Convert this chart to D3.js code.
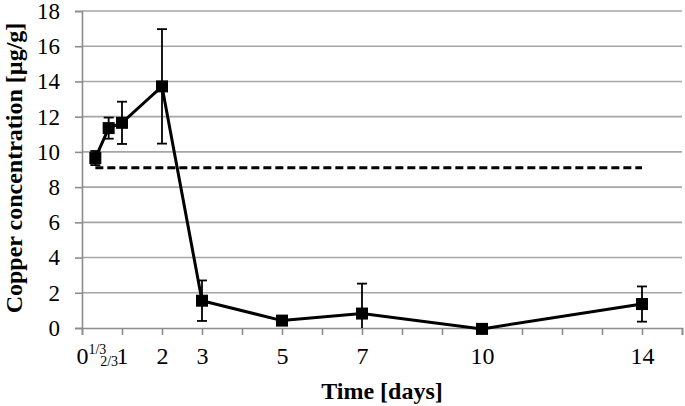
<!DOCTYPE html>
<html>
<head>
<meta charset="utf-8">
<script src="https://cdn.jsdelivr.net/npm/d3@7"></script>
</head>
<body style="margin:0">
<div id="chart"></div>
<script>
// sampling times in days and measured copper
var times = [1/3, 2/3, 1, 2, 3, 5, 7, 10, 14];
var copper = [9.65, 11.35, 11.65, 13.72, 1.55, 0.42, 0.82, -0.05, 1.36];
var errors = [0.4, 0.6, 1.2, 3.25, 1.15, 0.2, 1.7, 0, 1.0];
// dashed reference level
var refLevel = 9.1;
var refSpan = [1/3, 14];
var xLabels = [0, 1, 2, 3, 5, 7, 10, 14];
var fracLabels = [{t: 1/3, s: "1/3"}, {t: 2/3, s: "2/3"}];
var yTicks = [0, 2, 4, 6, 8, 10, 12, 14, 16, 18];

var width = 685, height = 406;
var margin = {top: 11, right: 3, bottom: 78, left: 82};
var serif = "Liberation Serif";

var svg = d3.select("#chart").append("svg")
  .attr("width", width).attr("height", height);

var x = d3.scaleLinear().domain([0, 15]).range([margin.left, width - margin.right]);
var y = d3.scaleLinear().domain([0, 18]).range([height - margin.bottom, margin.top]);

// horizontal grid
svg.append("g").selectAll("line")
  .data(yTicks.filter(function (d) { return d > 0; }))
  .enter().append("line")
  .attr("x1", x(0)).attr("x2", x(15))
  .attr("y1", function (d) { return y(d); })
  .attr("y2", function (d) { return y(d); })
  .attr("stroke", "#a6a6a6").attr("stroke-width", 1.6);

// y axis
var yAxis = svg.append("g")
  .attr("transform", "translate(" + x(0) + ",0)")
  .call(d3.axisLeft(y).tickValues(yTicks).tickSize(7).tickPadding(15));
yAxis.selectAll("line, path").attr("stroke", "#8c8c8c").attr("stroke-width", 1.6);
yAxis.selectAll("text").attr("fill", "#000")
  .attr("font-family", serif).attr("font-size", 23);

// x axis
var xAxis = svg.append("g")
  .attr("transform", "translate(0," + y(0) + ")")
  .call(d3.axisBottom(x).tickValues(d3.range(0, 16)).tickSize(7).tickPadding(12)
    .tickFormat(function (d) { return xLabels.indexOf(d) >= 0 ? d : ""; }));
xAxis.selectAll("line, path").attr("stroke", "#8c8c8c").attr("stroke-width", 1.6);
xAxis.selectAll("text").attr("fill", "#000")
  .attr("font-family", serif).attr("font-size", 24);

// the 1/3 and 2/3 labels squeezed between 0 and 1
svg.append("g").selectAll("text")
  .data(fracLabels)
  .enter().append("text")
  .attr("x", function (d, i) { return x(d.t) + (i === 0 ? 2 : 0.5); })
  .attr("y", function (d, i) { return i === 0 ? 354 : 366; })
  .attr("text-anchor", "middle")
  .attr("font-family", serif).attr("font-size", 14)
  .text(function (d) { return d.s; });

// dashed reference line
svg.append("line")
  .attr("x1", x(refSpan[0])).attr("x2", x(refSpan[1]))
  .attr("y1", y(refLevel)).attr("y2", y(refLevel))
  .attr("stroke", "#000").attr("stroke-width", 3)
  .attr("stroke-dasharray", "8,4");

var pts = times.map(function (t, i) { return {t: t, v: copper[i], e: errors[i]}; });

// error bars
var eb = svg.append("g").selectAll("g")
  .data(pts.filter(function (d) { return d.e > 0; }))
  .enter().append("g");
eb.append("line")
  .attr("x1", function (d) { return x(d.t); })
  .attr("x2", function (d) { return x(d.t); })
  .attr("y1", function (d) { return y(d.v + d.e); })
  .attr("y2", function (d) { return y(Math.max(d.v - d.e, 0)); })
  .attr("stroke", "#000").attr("stroke-width", 1.8);
eb.append("line")
  .attr("x1", function (d) { return x(d.t) - 5; })
  .attr("x2", function (d) { return x(d.t) + 5; })
  .attr("y1", function (d) { return y(d.v + d.e); })
  .attr("y2", function (d) { return y(d.v + d.e); })
  .attr("stroke", "#000").attr("stroke-width", 1.8);
eb.filter(function (d) { return d.v - d.e > 0; }).append("line")
  .attr("x1", function (d) { return x(d.t) - 5; })
  .attr("x2", function (d) { return x(d.t) + 5; })
  .attr("y1", function (d) { return y(d.v - d.e); })
  .attr("y2", function (d) { return y(d.v - d.e); })
  .attr("stroke", "#000").attr("stroke-width", 1.8);

// series line
var line = d3.line()
  .x(function (d) { return x(d.t); })
  .y(function (d) { return y(d.v); });
svg.append("path")
  .datum(pts)
  .attr("d", line)
  .attr("fill", "none")
  .attr("stroke", "#000")
  .attr("stroke-width", 3);

// square markers
svg.append("g").selectAll("rect")
  .data(pts)
  .enter().append("rect")
  .attr("x", function (d) { return x(d.t) - 6; })
  .attr("y", function (d) { return y(d.v) - 6; })
  .attr("width", 12).attr("height", 12)
  .attr("fill", "#000");

// axis titles
svg.append("text")
  .attr("x", 382).attr("y", 399)
  .attr("text-anchor", "middle")
  .attr("font-family", serif).attr("font-size", 24).attr("font-weight", "bold")
  .text("Time [days]");

svg.append("text")
  .attr("transform", "translate(22,168) rotate(-90)")
  .attr("text-anchor", "middle")
  .attr("font-family", serif).attr("font-size", 24).attr("font-weight", "bold")
  .text("Copper concentration  [µg/g]");
</script>
</body>
</html>
